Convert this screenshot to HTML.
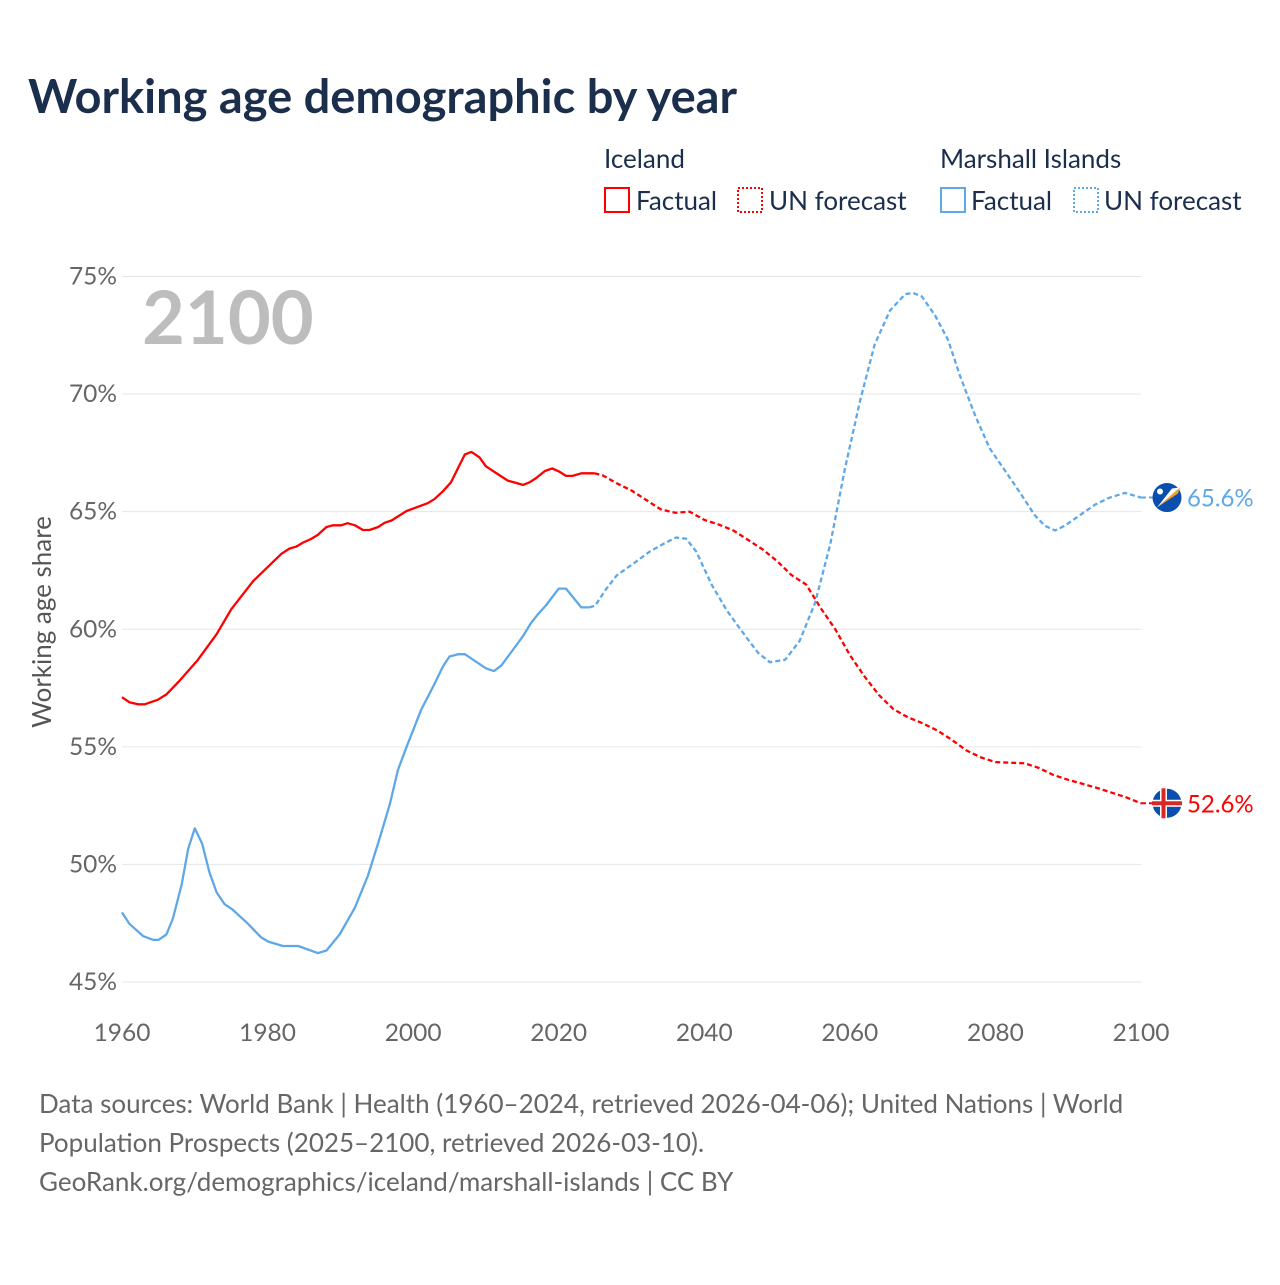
<!DOCTYPE html>
<html><head><meta charset="utf-8"><style>
body{margin:0;background:#fff;font-family:"Liberation Sans",sans-serif;}
svg text{font-family:"Lato","Liberation Sans",sans-serif;}
</style></head><body>
<svg width="1280" height="1280" viewBox="0 0 1280 1280">
<text x="28" y="113" font-size="47" font-weight="bold" fill="#1b2f4d">Working age demographic by year</text>
<g font-size="26" fill="#1b2f4d">
<text x="604" y="168">Iceland</text>
<rect x="605" y="188" width="24" height="24" fill="none" stroke="#ff0000" stroke-width="2"/>
<text x="636" y="210">Factual</text>
<rect x="738" y="188" width="24" height="24" fill="none" stroke="#ff0000" stroke-width="2" stroke-dasharray="2,2"/>
<text x="769" y="210">UN forecast</text>
<text x="940" y="168">Marshall Islands</text>
<rect x="941" y="188" width="24" height="24" fill="none" stroke="#5fa8e8" stroke-width="2"/>
<text x="971" y="210">Factual</text>
<rect x="1074" y="188" width="24" height="24" fill="none" stroke="#5fa8e8" stroke-width="2" stroke-dasharray="2,2"/>
<text x="1104" y="210">UN forecast</text>
</g>
<text x="142" y="344" font-size="74" font-weight="bold" fill="#bdbdbd">2100</text>
<text transform="translate(51,622) rotate(-90)" text-anchor="middle" font-size="26" fill="#555">Working age share</text>
<g id="grid"></g><g id="lines"></g><g id="ends"></g>
<g font-size="26" fill="#666">
<text x="39" y="1113">Data sources: World Bank | Health (1960–2024, retrieved 2026-04-06); United Nations | World</text>
<text x="39" y="1152">Population Prospects (2025–2100, retrieved 2026-03-10).</text>
<text x="39" y="1191">GeoRank.org/demographics/iceland/marshall-islands | CC BY</text>
</g>
</svg>
<script>
const yTicks=[45,50,55,60,65,70,75];
const xTicks=[1960,1980,2000,2020,2040,2060,2080,2100];
const isYearsF=[1960,1961,1962.2,1963.1,1964.9,1966.1,1967.9,1970.4,1973,1975,1978,1981.9,1983,1983.9,1984.9,1986,1986.9,1988.1,1989,1990.1,1991,1992,1993.1,1994,1995.2,1996.1,1997,1999.1,2002,2002.9,2004.1,2005.2,2007.1,2008,2009.1,2010,2011.6,2013,2015.1,2016,2016.9,2018.1,2019.1,2020.1,2021,2021.9,2023.1,2024.9];
const isValsF=[57.11,56.9,56.81,56.81,57.0,57.23,57.81,58.69,59.79,60.85,62.04,63.21,63.43,63.51,63.69,63.84,64.01,64.35,64.42,64.42,64.51,64.42,64.22,64.22,64.35,64.53,64.62,65.03,65.36,65.53,65.87,66.25,67.43,67.54,67.31,66.93,66.6,66.32,66.14,66.25,66.43,66.73,66.84,66.7,66.52,66.52,66.63,66.63];
const isYearsP=[2024.9,2026,2028,2030,2032,2034,2036,2038,2040,2042,2044,2046,2048,2050,2052,2054,2056,2058,2060,2062,2064,2066,2068,2070,2072,2074,2076,2078,2080,2084,2086,2088,2090,2094,2098,2100];
const isValsP=[66.63,66.55,66.2,65.9,65.5,65.1,64.95,65.0,64.65,64.45,64.2,63.8,63.4,62.9,62.3,61.9,60.9,60.0,58.9,58.0,57.2,56.6,56.25,56.0,55.7,55.3,54.85,54.55,54.35,54.3,54.1,53.8,53.6,53.25,52.85,52.6];
const mhYearsF=[1960,1961,1962.9,1964.3,1965,1966.1,1967,1968.2,1969.1,1970,1971,1972,1973,1974.1,1975.2,1977.3,1979.1,1980.1,1982.1,1984.2,1986.9,1988.1,1989.9,1992,1993.8,1995.4,1996.8,1997.9,1999.1,2001.1,2002.9,2004.1,2005,2006.2,2007.1,2008.9,2010,2011.1,2012.1,2014.2,2015.1,2016.2,2017.1,2018.3,2020,2021,2023.1,2024.2];
const mhValsF=[47.96,47.48,46.95,46.79,46.79,47.02,47.7,49.15,50.67,51.53,50.89,49.68,48.81,48.31,48.08,47.48,46.9,46.72,46.53,46.53,46.23,46.34,47.02,48.16,49.53,51.12,52.57,54.01,55.0,56.57,57.66,58.42,58.84,58.94,58.94,58.57,58.34,58.22,58.45,59.33,59.71,60.27,60.62,61.03,61.73,61.73,60.93,60.93];
const mhYearsP=[2024.2,2025,2026.5,2028,2030.3,2032.5,2034.2,2036.1,2037.5,2038.9,2041,2043.1,2045.2,2047.4,2049,2051.1,2053.1,2055.2,2057.3,2059.3,2061.4,2063.4,2065.5,2067.6,2068.7,2069.9,2071.7,2073.5,2075.1,2077.2,2079.2,2081.3,2083.4,2085.4,2086.8,2088.2,2089.5,2091.6,2093.7,2095.7,2097.8,2100];
const mhValsP=[60.93,61.0,61.7,62.3,62.8,63.3,63.6,63.9,63.85,63.3,61.9,60.8,59.9,59.0,58.6,58.7,59.5,61.1,63.6,66.8,69.7,72.1,73.55,74.25,74.3,74.15,73.35,72.3,70.8,69.1,67.7,66.75,65.8,64.85,64.4,64.2,64.4,64.85,65.3,65.6,65.8,65.6];
const NS='http://www.w3.org/2000/svg';
const X=y=>122+(y-1960)*(1141-122)/140;
const Y=v=>982-(v-45)*(982-276.5)/30;
function mk(tag,attrs,parent){const e=document.createElementNS(NS,tag);for(const k in attrs)e.setAttribute(k,attrs[k]);parent.appendChild(e);return e;}
const grid=document.getElementById('grid');
yTicks.forEach(t=>{
 const l=mk('line',{x1:122,x2:1141,y1:Y(t),y2:Y(t),stroke:'#e6e6e6','stroke-width':1},grid);
 
 
 const tx=mk('text',{x:117,y:Y(t)+8,'text-anchor':'end','font-size':24.5,fill:'#666'},grid);tx.textContent=t+'%';
 
 
});
xTicks.forEach(t=>{
 const tx=mk('text',{x:X(t),y:1041,'text-anchor':'middle','font-size':24.5,fill:'#666'},grid);tx.textContent=t;
 
 
});
const lines=document.getElementById('lines');
function path(xs,vs,color,dash,name){
 const d=xs.map((x,i)=>(i?'L':'M')+X(x).toFixed(1)+','+Y(vs[i]).toFixed(1)).join('');
 const p=mk('path',{d:d,fill:'none',stroke:color,'stroke-width':2.3,'stroke-linejoin':'round'},lines);
 if(dash)p.setAttribute('stroke-dasharray','5,3');
 
 
}
path(isYearsF,isValsF,'#ff0000',false,'iceland-factual-line');
path(isYearsP,isValsP,'#ff0000',true,'iceland-forecast-line');
path(mhYearsF,mhValsF,'#5fa8e8',false,'marshall-factual-line');
path(mhYearsP,mhValsP,'#5fa8e8',true,'marshall-forecast-line');
const ends=document.getElementById('ends');
function endMark(v,color,name,flag){
 const y=Y(v);
 const c=mk('line',{x1:X(2100),y1:y,x2:1155,y2:y,stroke:color,'stroke-width':2,'stroke-dasharray':'5,3'},ends);
 
 
 const g=mk('g',{},ends);
 
 
 mk('circle',{cx:1167,cy:y,r:14.5,fill:'#0a4fb0'},g);
 if(flag==='is'){
  mk('rect',{x:1152,y:y-3.5,width:30,height:7,fill:'#fff'},g);
  mk('rect',{x:1160,y:y-15,width:7,height:30,fill:'#fff'},g);
  mk('rect',{x:1152,y:y-2,width:30,height:4,fill:'#d72828'},g);
  mk('rect',{x:1161.5,y:y-15,width:4,height:30,fill:'#d72828'},g);
 } else {
  mk('polygon',{points:`1157,${y+10} 1180,${y-10} 1178,${y-4}`,fill:'#f59c22'},g);
  mk('polygon',{points:`1157,${y+10} 1180,${y-10} 1172,${y-9}`,fill:'#fff'},g);
  mk('circle',{cx:1160,cy:y-6,r:3,fill:'#fff'},g);
 }
 const t=mk('text',{x:1187,y:y+9,'font-size':24,fill:color},ends);t.textContent=v.toFixed(1)+'%';
 
 
}
endMark(mhValsP[mhValsP.length-1],'#5fa8e8','marshall','mh');
endMark(isValsP[isValsP.length-1],'#ff0000','iceland','is');
</script>
</body></html>
